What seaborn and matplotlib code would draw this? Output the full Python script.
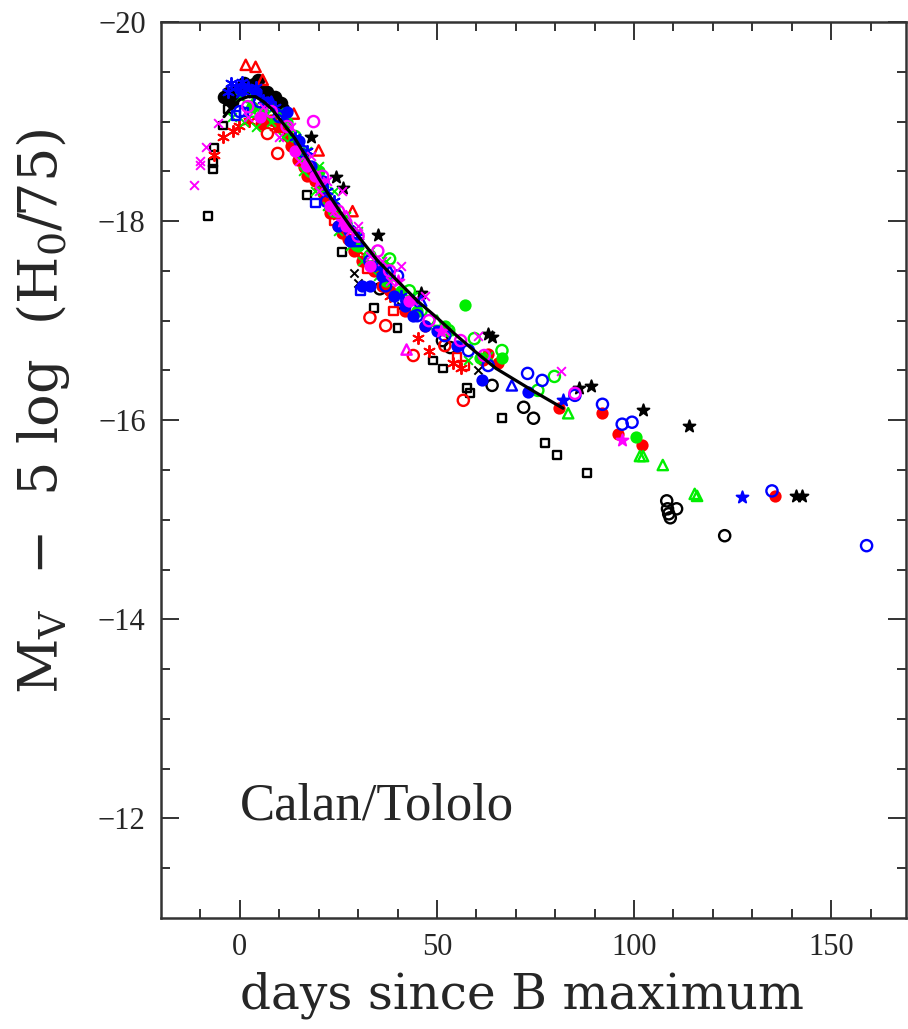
import numpy as np
import pandas as pd
import seaborn as sns
import matplotlib.pyplot as plt

# template light curve (solid line)
tmpl_x = [-4, -2, 0, 2, 4, 6, 8, 10, 12, 14, 16, 18, 20, 22, 25, 28, 31, 35, 40, 45, 50, 55, 60, 65, 70, 75, 82]
tmpl_y = [-19.05, -19.15, -19.22, -19.25, -19.25, -19.2, -19.13, -19.03, -18.93, -18.83, -18.7, -18.57, -18.43,
          -18.3, -18.12, -17.95, -17.8, -17.6, -17.4, -17.2, -17.03, -16.85, -16.68, -16.52, -16.4, -16.28, -16.12]

# black
bsq_x = [-8.1, -6.8, -6.8, -6.6, -4.3, -3.0, 17.0, 26.0, 34.0, 40.0, 49.0, 51.6, 57.7, 58.5, 66.5, 77.5, 80.5, 88.0]
bsq_y = [-18.05, -18.52, -18.58, -18.74, -18.96, -19.13, -18.26, -17.69, -17.13, -16.93, -16.60, -16.52, -16.32,
         -16.27, -16.02, -15.77, -15.65, -15.47]
boc_x = [35.5, 51.4, 53.4, 64.0, 72.0, 74.5, 108.3, 108.5, 110.8, 108.8, 109.2, 123.0]
boc_y = [-17.32, -16.80, -16.73, -16.35, -16.13, -16.02, -15.19, -15.11, -15.11, -15.06, -15.02, -14.84]
bfc_x = [-4.0, -3.0, -2.0, -1.0, 0.0, 1.0, 2.0, 3.5, 4.5, 5.3, 6.5, 7.0, 8.0, 9.0, 10.4, 11.0]
bfc_y = [-19.25, -19.29, -19.20, -19.30, -19.33, -19.39, -19.35, -19.38, -19.42, -19.32, -19.28, -19.30, -19.22,
         -19.25, -19.19, -19.13]
bst_x = [18.0, 24.3, 26.3, 35.0, 46.0, 63.0, 64.0, 86.0, 89.0, 102.3, 114.0, 141.0, 142.5]
bst_y = [-18.84, -18.44, -18.33, -17.86, -17.28, -16.87, -16.84, -16.32, -16.34, -16.10, -15.94, -15.24, -15.24]
bx_x = [12.0, 22.0, 29.0, 30.0, 41.0, 60.5]
bx_y = [-18.92, -18.15, -17.48, -17.38, -17.15, -16.50]

# red
rtr_x = [1.5, 4.0, 5.8, 13.7, 20.0, 28.6]
rtr_y = [-19.57, -19.55, -19.42, -19.08, -18.71, -18.10]
roc_x = [7.0, 9.6, 11.0, 33.0, 37.0, 44.0, 52.0, 56.7]
roc_y = [-18.88, -18.68, -18.95, -17.03, -16.95, -16.65, -16.75, -16.20]
rfc_x = [3.0, 5.3, 8.0, 10.0, 12.5, 13.0, 14.7, 16.2, 17.0, 19.0, 21.0, 22.0, 23.0, 25.0, 26.0, 27.5, 29.0, 31.0,
         34.0, 36.0, 38.0, 42.0, 47.0, 61.8, 63.0, 65.6, 81.0, 92.0, 96.0, 102.0, 135.7]
rfc_y = [-19.15, -18.98, -19.02, -18.95, -18.85, -18.75, -18.61, -18.54, -18.45, -18.40, -18.28, -18.20, -18.08,
         -17.95, -17.88, -17.82, -17.70, -17.60, -17.50, -17.35, -17.30, -17.10, -16.95, -16.60, -16.67, -16.57,
         -16.12, -16.07, -15.86, -15.75, -15.24]
rast_x = [-6.6, -4.3, -1.8, -0.3, 2.3, 9.0, 12.0, 15.0, 17.0, 20.0, 22.0, 25.0, 30.0, 38.0, 45.3, 48.0, 54.0, 56.0]
rast_y = [-18.66, -18.84, -18.91, -18.96, -19.01, -18.95, -18.85, -18.65, -18.55, -18.35, -18.20, -18.05, -17.70,
          -17.25, -16.83, -16.70, -16.57, -16.52]
rsq_x = [24.0, 32.4, 39.0, 55.0, 57.0]
rsq_y = [-18.0, -17.52, -17.10, -16.63, -16.55]

# green
gfc_x = [3.0, 6.0, 12.0, 16.0, 20.0, 24.0, 27.0, 30.0, 34.0, 37.0, 41.0, 45.0, 52.0, 57.0, 61.0, 66.6, 100.5]
gfc_y = [-19.15, -19.10, -19.00, -18.65, -18.50, -18.15, -17.98, -17.75, -17.55, -17.40, -17.30, -17.10, -16.95,
         -17.16, -16.62, -16.62, -15.83]
goc_x = [2.0, 7.0, 14.0, 18.0, 21.0, 24.0, 28.0, 33.0, 38.0, 43.0, 46.0, 53.0, 59.5, 66.5, 75.6, 79.8]
goc_y = [-19.25, -19.15, -18.85, -18.50, -18.35, -18.10, -17.90, -17.65, -17.62, -17.30, -17.10, -16.90, -16.82,
         -16.70, -16.30, -16.44]
gtr_x = [3.0, 9.0, 50.0, 83.3, 101.5, 102.3, 107.3, 115.4, 116.0]
gtr_y = [-19.10, -19.05, -17.00, -16.07, -15.64, -15.64, -15.55, -15.26, -15.24]
gx_x = [-2.0, 0.0, 1.0, 3.0, 4.0, 7.0, 8.0, 10.0, 11.0, 13.0, 16.0, 17.0, 19.0, 20.0, 22.0, 24.0, 25.0, 27.0, 28.0,
        30.0, 31.0, 33.0, 35.0, 37.0, 39.0, 44.0, 48.0, 53.0, 58.0, 63.0]
gx_y = [-19.05, -19.25, -19.00, -19.30, -18.95, -19.20, -19.00, -19.10, -18.85, -18.85, -18.50, -18.70, -18.30,
        -18.55, -18.15, -18.30, -17.90, -18.05, -17.75, -17.90, -17.60, -17.70, -17.45, -17.60, -17.25, -17.25,
        -16.95, -16.90, -16.60, -16.65]

# blue
buc_x = [0.0, 5.0, 10.0, 16.0, 22.0, 28.0, 33.0, 37.0, 40.0, 45.0, 52.0, 58.0, 63.0, 73.0, 76.7, 85.0, 92.0, 97.0,
         99.5, 135.0, 159.0]
buc_y = [-19.10, -19.20, -19.05, -18.70, -18.20, -17.90, -17.60, -17.35, -17.45, -17.05, -16.85, -16.70, -16.55,
         -16.47, -16.40, -16.25, -16.16, -15.96, -15.98, -15.29, -14.74]
bust_x = [0.0, 2.0, 35.0, 44.0, 82.0, 127.5]
bust_y = [-19.30, -19.35, -17.55, -17.20, -16.20, -15.23]
bufc_x = [4.0, 7.0, 12.0, 15.0, 18.0, 21.0, 25.0, 28.0, 31.0, 33.0, 36.0, 39.0, 42.0, 44.0, 47.0, 50.0, 55.0, 61.5,
          73.0]
bufc_y = [-19.30, -19.20, -19.10, -18.80, -18.55, -18.40, -17.95, -17.80, -17.35, -17.35, -17.45, -17.25, -17.15,
          -17.05, -16.95, -16.90, -16.75, -16.40, -16.28]
butr_x = [8.0, 30.0, 38.0, 46.0, 69.0]
butr_y = [-19.20, -17.80, -17.50, -17.20, -16.35]
busq_x = [-1.0, 1.0, 19.2, 30.6, 40.5]
busq_y = [-19.06, -19.10, -18.18, -17.30, -17.20]
buast_x = [-3.0, -2.3, -1.0, 0.5, 1.0, 3.5, 4.0, 6.0, 9.0, 11.0, 14.0, 17.0, 22.0, 24.0, 27.0, 30.0, 36.0, 41.0]
buast_y = [-19.30, -19.39, -19.35, -19.40, -19.30, -19.28, -19.35, -19.22, -19.15, -19.05, -18.85, -18.70, -18.30,
           -18.20, -17.95, -17.85, -17.50, -17.25]

# magenta
mx_x = [-11.6, -10.0, -10.0, -8.7, -5.6, 2.0, 6.0, 10.0, 13.0, 15.0, 18.0, 20.0, 22.0, 24.0, 26.0, 28.0, 30.0, 33.0,
        36.0, 38.0, 41.0, 44.0, 47.0, 52.0, 60.5, 81.5]
mx_y = [-18.36, -18.56, -18.60, -18.74, -18.99, -19.05, -19.15, -18.85, -18.95, -18.60, -18.65, -18.30, -18.40,
        -18.10, -18.30, -17.90, -17.95, -17.65, -17.60, -17.40, -17.55, -17.20, -17.25, -16.90, -16.85, -16.49]
mst_x = [20.0, 26.0, 40.0, 51.0, 97.0]
mst_y = [-18.40, -18.00, -17.40, -16.90, -15.80]
moc_x = [2.0, 8.0, 12.0, 18.7, 21.0, 25.0, 30.0, 35.0, 38.0, 48.0, 56.0, 62.0, 85.0]
moc_y = [-19.15, -19.10, -18.95, -19.00, -18.45, -18.10, -17.85, -17.70, -17.50, -17.00, -16.80, -16.65, -16.27]
mtr_x = [17.0, 27.0, 42.3]
mtr_y = [-18.60, -18.05, -16.71]
mfc_x = [5.0, 14.0, 17.0, 19.0, 23.0, 27.0, 33.0, 43.0]
mfc_y = [-19.05, -18.70, -18.55, -18.45, -18.15, -17.95, -17.55, -17.20]

RED, GREEN, BLUE, MAG, BLK = "#ff0000", "#00ee00", "#0000ff", "#ff00ff", "#000000"
ast = (6, 2, 0)

series = [
    (bsq_x, bsq_y, BLK, "s", False, 32),
    (boc_x, boc_y, BLK, "o", False, 65),
    (bfc_x, bfc_y, BLK, "o", True, 70),
    (bst_x, bst_y, BLK, "*", True, 80),
    (bx_x, bx_y, BLK, "x", True, 35),
    (rtr_x, rtr_y, RED, "^", False, 55),
    (roc_x, roc_y, RED, "o", False, 65),
    (rfc_x, rfc_y, RED, "o", True, 55),
    (rast_x, rast_y, RED, ast, True, 65),
    (rsq_x, rsq_y, RED, "s", False, 35),
    (gfc_x, gfc_y, GREEN, "o", True, 55),
    (goc_x, goc_y, GREEN, "o", False, 65),
    (gtr_x, gtr_y, GREEN, "^", False, 55),
    (gx_x, gx_y, GREEN, "x", True, 40),
    (buc_x, buc_y, BLUE, "o", False, 65),
    (bust_x, bust_y, BLUE, "*", True, 80),
    (bufc_x, bufc_y, BLUE, "o", True, 55),
    (butr_x, butr_y, BLUE, "^", False, 55),
    (busq_x, busq_y, BLUE, "s", False, 35),
    (buast_x, buast_y, BLUE, ast, True, 65),
    (mx_x, mx_y, MAG, "x", True, 40),
    (mst_x, mst_y, MAG, "*", True, 80),
    (moc_x, moc_y, MAG, "o", False, 65),
    (mtr_x, mtr_y, MAG, "^", False, 55),
    (mfc_x, mfc_y, MAG, "o", True, 55),
]

sns.set_style("ticks")
plt.rcParams["font.family"] = ["Liberation Serif", "DejaVu Serif"]
plt.rcParams["mathtext.fontset"] = "dejavuserif"
plt.rcParams["axes.unicode_minus"] = True

fig = plt.figure(figsize=(9.08, 10.29), dpi=100)
ax = fig.add_axes([0.1773, 0.1079, 0.8205, 0.8707])

for xs, ys, col, mk, filled, size in series:
    if filled:
        sns.scatterplot(x=xs, y=ys, ax=ax, marker=mk, s=size, color=col, edgecolor=col, linewidth=1.4)
    else:
        sns.scatterplot(x=xs, y=ys, ax=ax, marker=mk, s=size, color=col, facecolor="none",
                        edgecolor=col, linewidth=1.7)

sns.lineplot(x=tmpl_x, y=tmpl_y, ax=ax, color="black", linewidth=2.3, zorder=10)

ax.set_xlim(-20, 169)
ax.set_ylim(-11, -20)
ax.set_xticks([0, 50, 100, 150])
ax.set_xticks(np.arange(-10, 170, 10), minor=True)
ax.set_yticks([-20, -18, -16, -14, -12])
ax.set_yticks(np.arange(-19.5, -11, 0.5), minor=True)
ax.tick_params(which="both", direction="in", top=True, right=True, width=1.4, color="#333333")
ax.tick_params(which="major", length=13, labelsize=22, pad=11)
ax.tick_params(which="minor", length=6.5)
for sp in ax.spines.values():
    sp.set_linewidth(1.8)
    sp.set_color("#333333")

ax.set_xlabel("days since B maximum", fontsize=35, labelpad=8, family="DejaVu Serif")
ax.xaxis.set_label_coords(0.485, -0.06)
ax.xaxis.label.set_va("top")
ax.set_ylabel(r"M$_\mathrm{V}$  −  5 log  (H$_0$/75)", fontsize=39, family="DejaVu Serif")
ax.yaxis.set_label_coords(-0.12, 0.565)
ax.text(0, -12.12, "Calan/Tololo", fontsize=38, ha="left", va="center")

fig.savefig("out.png", dpi=100)
